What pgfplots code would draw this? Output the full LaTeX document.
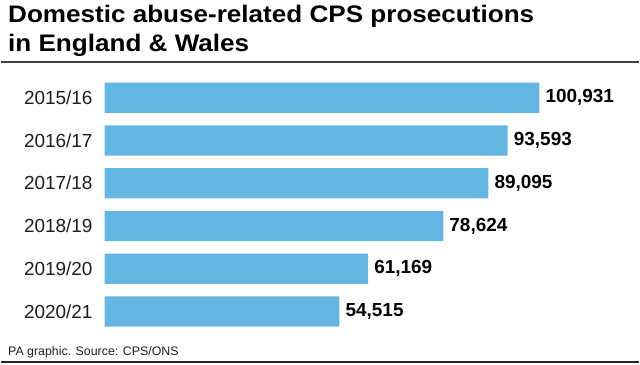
\documentclass[border=0pt]{standalone}
\usepackage{pgfplots}
\pgfplotsset{compat=1.18}
\usepackage{fontspec}
\setmainfont{Liberation Sans}
\newfontfamily\titlefont[FakeStretch=1.09]{Liberation Sans}
\definecolor{barblue}{RGB}{100,181,225}
\definecolor{labgray}{RGB}{30,30,30}
\begin{document}
\begin{tikzpicture}
\path (0,0) rectangle (640pt,-366pt);
\node[anchor=base west, inner sep=0pt] at (7pt,-23pt) {\titlefont\bfseries\fontsize{24}{28}\selectfont Domestic abuse-related CPS prosecutions};
\node[anchor=base west, inner sep=0pt] at (7pt,-52pt) {\titlefont\bfseries\fontsize{24}{28}\selectfont in England \& Wales};
\draw[line width=1.5pt, color=black!75] (0,-62pt) -- (640pt,-62pt);
\node[anchor=base west, inner sep=0pt, text=labgray] at (7pt,-357pt) {\fontsize{12.4}{14}\selectfont PA graphic. Source: CPS/ONS};
\draw[line width=2pt, color=black!85] (0,-363.5pt) -- (640pt,-363.5pt);
\begin{axis}[
  at={(104pt,-76.55pt)}, anchor=north west,
  scale only axis, width=518.4pt, height=257.4pt,
  xmin=0, xmax=120000, ymin=-0.5, ymax=5.5, y dir=reverse,
  hide x axis,
  axis y line*=left, y axis line style={draw=none},
  xbar, bar width=0.71,
  ytick={0,1,2,3,4,5},
  yticklabels={2015/16,2016/17,2017/18,2018/19,2019/20,2020/21},
  major tick length=0pt, ytick style={draw=none},
  yticklabel style={font=\fontsize{19}{22}\selectfont, text=labgray, anchor=east, inner sep=0pt, xshift=-12pt},
  /pgf/number format/1000 sep={,},
  /pgf/number format/assume math mode=true,
  nodes near coords={\pgfmathprintnumber[fixed,precision=0]{\pgfplotspointmeta}},
  point meta=x,
  every node near coord/.append style={font=\bfseries\fontsize{19}{22}\selectfont, text=black, anchor=west, inner sep=0pt, xshift=6pt},
]
\addplot[draw=none, fill=barblue] coordinates {
(100931,0) (93593,1) (89095,2) (78624,3) (61169,4) (54515,5)};
\end{axis}
\end{tikzpicture}
\end{document}
